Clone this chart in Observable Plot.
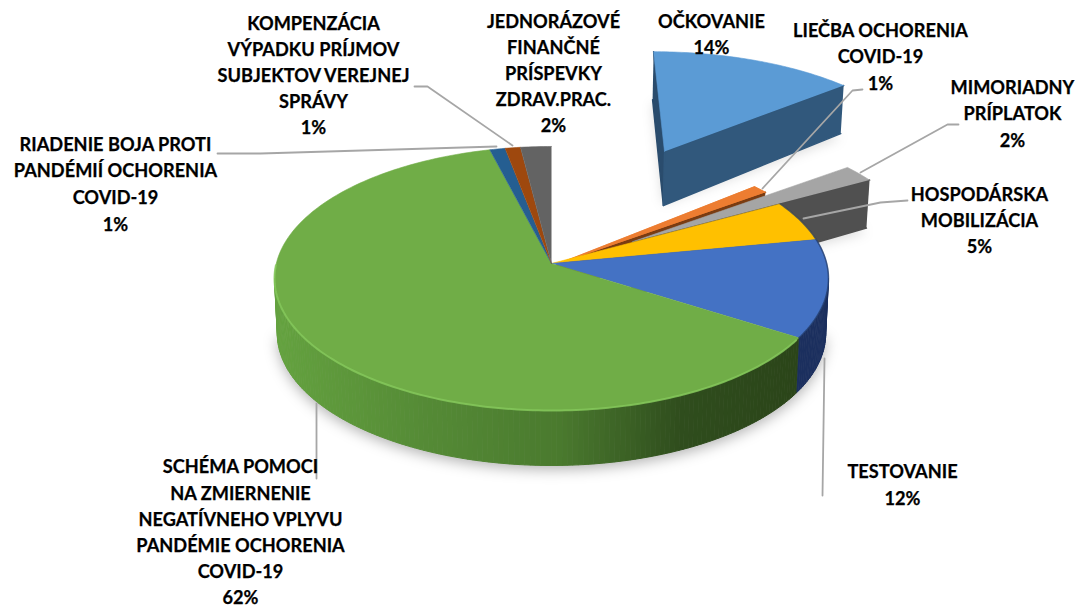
<!DOCTYPE html>
<html><head><meta charset="utf-8">
<script src="https://cdn.jsdelivr.net/npm/d3@7"></script>
<script src="https://cdn.jsdelivr.net/npm/@observablehq/plot@0.6"></script>
<style>html,body{margin:0;padding:0;background:#fff}svg{display:block}</style>
</head><body><div id="chart"></div>
<script>
// --- data (clockwise from 12 o'clock) ---
const categories = ["OČKOVANIE","LIEČBA OCHORENIA COVID-19","MIMORIADNY PRÍPLATOK","HOSPODÁRSKA MOBILIZÁCIA","TESTOVANIE","SCHÉMA POMOCI","RIADENIE BOJA","KOMPENZÁCIA","JEDNORÁZOVÉ"];
const shares = [14,1,2,5,12,62,1,1,2];
const topColors = ["#5b9bd5","#ed7d31","#a5a5a5","#ffc000","#4472c4","#70ad47","#255e91","#9e480e","#636363"];
const wallColors = ["#31587c","#7a3c12","#505050","#8a6800","#1b2f5e","#3f6a2a","#163a5a","#5e2b08","#3c3c3c"];
const labelLines = [
  ["OČKOVANIE","14%"],
  ["LIEČBA OCHORENIA","COVID-19","1%"],
  ["MIMORIADNY","PRÍPLATOK","2%"],
  ["HOSPODÁRSKA","MOBILIZÁCIA","5%"],
  ["TESTOVANIE","12%"],
  ["SCHÉMA POMOCI","NA ZMIERNENIE","NEGATÍVNEHO VPLYVU","PANDÉMIE OCHORENIA","COVID-19","62%"],
  ["RIADENIE BOJA PROTI","PANDÉMIÍ OCHORENIA","COVID-19","1%"],
  ["KOMPENZÁCIA","VÝPADKU PRÍJMOV","SUBJEKTOV VEREJNEJ","SPRÁVY","1%"],
  ["JEDNORÁZOVÉ","FINANČNÉ","PRÍSPEVKY","ZDRAV.PRAC.","2%"]
];
const labelX = [711,880,1012,979,902,240,115,313,553];
const labelY = [[22,48],[31,57,84],[88,114,141],[195,221,247],[472,499],[467,494,520,546,572,598],[145,171,198,225],[24,50,76,102,128],[22,48,74,100,126]];
const leaders = [
  [],
  [[762,188],[852,90],[862,89]],
  [[860,172],[947,124],[958,124]],
  [[803,218],[880,202],[907,200]],
  [[824,358],[822,495]],
  [[316,403],[316,478]],
  [[496,146],[260,153],[217,153]],
  [[512,145],[427,86],[414,86]],
  []
];
// exploded slices: centre offset, radius factor, wall depth near apex / at the rim
const explode = {
  0:{u:.455,v:.953,r:1.04,dA:54,dO:48},
  1:{u:.02,v:-.005,r:1,dA:30,dO:20},
  2:{u:.3,v:.17,r:1.08,dA:54,dO:48}
};

// --- projection of the tilted pie ---
const cx=551, cy=263, R=275.2, S=130.3, k=.1135, depth=55, shrink=.01;
const proj=(u,v)=>{const w=1+k*v;return {x:cx+R*u/w,y:cy-S*v/w}};
const drop=(p,d)=>({x:cx+(p.x-cx)*(1-shrink),y:p.y+d});
const arcs=d3.pie().sort(null).value(d=>d).startAngle(0).endAngle(2*Math.PI)(shares);
const onRim=(a,e)=>{const r=e?e.r:1;return proj((e?e.u:0)+r*Math.sin(a),(e?e.v:0)+r*Math.cos(a))};
const span=(a0,a1,e)=>{const n=Math.max(2,Math.ceil((a1-a0)/(Math.PI/180)));return d3.range(n+1).map(i=>onRim(a0+(a1-a0)*i/n,e))};

const poly=(pts,fill,opts={})=>Plot.line(pts,{x:"x",y:"y",fill,stroke:fill,strokeWidth:.6,...opts});
const marks=[];
const rimStart=Math.acos(-k), rimEnd=2*Math.PI-rimStart;

// soft shadows (front of the pie and the exploded slices only)
marks.push(poly(span(rimStart,rimEnd).map(p=>drop(p,depth+4)),"#000",{fillOpacity:.3,strokeOpacity:0,imageFilter:"blur(7px)"}));
[0,2].forEach(i=>{
  const e=explode[i],a=arcs[i];
  const ends=span(a.startAngle,a.endAngle,e);
  const pts=[proj(e.u,e.v),...ends].map(p=>drop(p,e.dO+4));
  marks.push(poly(pts,"#000",{fillOpacity:.14,strokeOpacity:0,imageFilter:"blur(6px)"}));
});

// exploded slices, far to near
[0,1,2].forEach(i=>{
  const e=explode[i],a=arcs[i],apex=proj(e.u,e.v);
  const wall=(ang,col)=>{const c=onRim(ang,e);marks.push(poly([c,apex,drop(apex,e.dA),drop(c,e.dO)],col,{strokeWidth:1.5,strokeLinejoin:"round"}))};
  if(i===0) wall(a.startAngle,"#2a4c6d");
  wall(a.endAngle,wallColors[i]);
  marks.push(poly([apex,...span(a.startAngle,a.endAngle,e)],topColors[i]));
});
// orange slice lies on top of the grey one
{
  const e=explode[1],a=arcs[1],apex=proj(e.u,e.v);
  marks.push(poly([apex,...span(a.startAngle,a.endAngle,e)],topColors[1]));
}

// front wall of the pie, as strips
const greenRamp=d3.scaleLinear().domain([275,420,560,680,796]).range(["#64a23f","#558b36","#4a7a2e","#2f4d1d","#2b4519"]);
[4,5].forEach(i=>{
  const a=arcs[i],a0=Math.max(a.startAngle,rimStart),a1=Math.min(a.endAngle,rimEnd);
  const pts=span(a0,a1);
  d3.pairs(pts).forEach(([p,q])=>{
    const col=i===5?greenRamp((p.x+q.x)/2):wallColors[i];
    marks.push(poly([p,q,drop(q,depth),drop(p,depth)],col,{strokeWidth:1}));
  });
});

// top surfaces of the slices that stay in place
arcs.forEach((a,i)=>{
  if(explode[i]) return;
  marks.push(poly([{x:cx,y:cy},...span(a.startAngle,a.endAngle)],topColors[i]));
});
// edge highlights
marks.push(Plot.line(span(arcs[5].startAngle+.02,rimEnd+.1),{x:"x",y:"y",stroke:"#86c95c",strokeWidth:2,strokeOpacity:.8}));
marks.push(Plot.line(span(arcs[3].startAngle,arcs[4].endAngle),{x:"x",y:"y",stroke:"#1f3864",strokeWidth:1.5,strokeOpacity:.7}));

// leader lines
leaders.forEach(l=>{ if(l.length) marks.push(Plot.line(l.map(([x,y])=>({x,y})),{x:"x",y:"y",stroke:"#a6a6a6",strokeWidth:1.8})); });

// labels
const labels=labelLines.flatMap((ls,i)=>ls.map((t,j)=>({t,x:labelX[i],y:labelY[i][j]})));
marks.push(Plot.text(labels,{x:"x",y:"y",text:"t",fontFamily:"Lato",fontWeight:"bold",fontSize:18.2,fill:"#000",stroke:"#000",strokeWidth:.25,textAnchor:"middle",lineAnchor:"middle"}));

document.getElementById("chart").append(Plot.plot({
  width:1078,height:608,margin:0,
  x:{domain:[0,1078],range:[0,1078],axis:null},
  y:{domain:[0,608],range:[0,608],axis:null},
  style:{background:"#fff"},
  marks
}));
</script></body></html>
